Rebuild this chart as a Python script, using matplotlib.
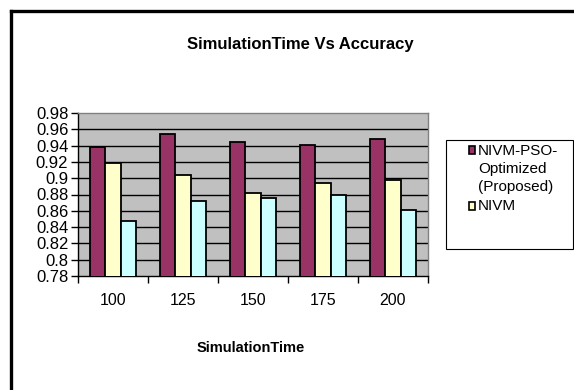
import numpy as np
import matplotlib
matplotlib.use("Agg")
import matplotlib.pyplot as plt
from matplotlib import font_manager
from matplotlib.patches import Rectangle
from matplotlib.lines import Line2D

# accuracy per simulation time, three methods
sim_times = ["100", "125", "150", "175", "200"]
series_names = ["NIVM-PSO-\nOptimized\n(Proposed)", "NIVM", "series3"]
acc_proposed = [0.938, 0.954, 0.944, 0.941, 0.948]
acc_nivm = [0.919, 0.904, 0.882, 0.894, 0.898]
acc_third = [0.848, 0.872, 0.876, 0.880, 0.861]
y_ticks = [0.78, 0.80, 0.82, 0.84, 0.86, 0.88, 0.90, 0.92, 0.94, 0.96, 0.98]
y_ticklabels = ["0.78", "0.8", "0.82", "0.84", "0.86", "0.88", "0.9", "0.92", "0.94", "0.96", "0.98"]

colors = ["#993366", "#FFFFCC", "#CCFFFF"]

names = {f.name for f in font_manager.fontManager.ttflist}
family = "Liberation Sans Narrow" if "Liberation Sans Narrow" in names else "Liberation Sans"
plt.rcParams["font.family"] = [family, "DejaVu Sans"]

W, H = 574, 390
fig = plt.figure(figsize=(W / 100, H / 100), dpi=100)

def fx(px):
    return px / W

def fy(py):
    return 1 - py / H

ax = fig.add_axes([fx(78), fy(276), fx(428) - fx(78), fy(113) - fy(276)])
ax.set_facecolor("#C0C0C0")

x = np.arange(len(sim_times))
bw = 0.22
for i, vals in enumerate([acc_proposed, acc_nivm, acc_third]):
    ax.bar(x + (i - 1) * bw, vals, bw, color=colors[i], edgecolor="black",
           linewidth=1.3, zorder=3)

ax.set_xlim(-0.5, len(sim_times) - 0.5)
ax.set_ylim(0.78, 0.98)
ax.set_yticks(y_ticks)
ax.set_yticklabels(y_ticklabels, fontsize=12)
for t in y_ticks[1:-1]:
    ax.axhline(t, color="black", linewidth=1.0, zorder=1)

ax.set_xticks(x)
ax.set_xticklabels(sim_times, fontsize=11.5)
ax.set_xticks(np.arange(len(sim_times) + 1) - 0.5, minor=True)
ax.tick_params(axis="x", which="major", length=0, pad=12)
ax.tick_params(axis="x", which="minor", length=5, width=1, direction="out")
ax.tick_params(axis="y", length=5, width=1, direction="out", pad=2)

for side in ["top", "right"]:
    ax.spines[side].set_color("#808080")
    ax.spines[side].set_linewidth(1.0)
for side in ["left", "bottom"]:
    ax.spines[side].set_color("black")
    ax.spines[side].set_linewidth(1.0)

fig.text(fx(300), fy(45), "SimulationTime Vs Accuracy", ha="center", va="center",
         fontsize=12, fontweight="bold")
fig.text(fx(251), fy(348), "SimulationTime", ha="center", va="center",
         fontsize=10.5, fontweight="bold")

# legend box, only the first two entries fit inside it
fig.patches.append(Rectangle((fx(446), fy(249)), fx(573) - fx(446), fy(140) - fy(249),
                             transform=fig.transFigure, facecolor="white",
                             edgecolor="black", linewidth=0.8))
line_h = 18.5
rows = [0, 3]
for k, row in enumerate(rows):
    ytop = 150 + row * line_h
    fig.patches.append(Rectangle((fx(469), fy(ytop + 4)), fx(6), 8 / H,
                                 transform=fig.transFigure, facecolor=colors[k],
                                 edgecolor="black", linewidth=1.2))
    fig.text(fx(478), fy(ytop - 6), series_names[k], ha="left", va="top",
             fontsize=11, linespacing=1.35)

# outer frame
fig.add_artist(Line2D([fx(11), fx(W)], [fy(11), fy(11)], color="black", linewidth=2.4,
                      transform=fig.transFigure))
fig.add_artist(Line2D([fx(11), fx(11)], [fy(11), fy(H)], color="black", linewidth=2.4,
                      transform=fig.transFigure))

fig.savefig("out.png", dpi=100)
